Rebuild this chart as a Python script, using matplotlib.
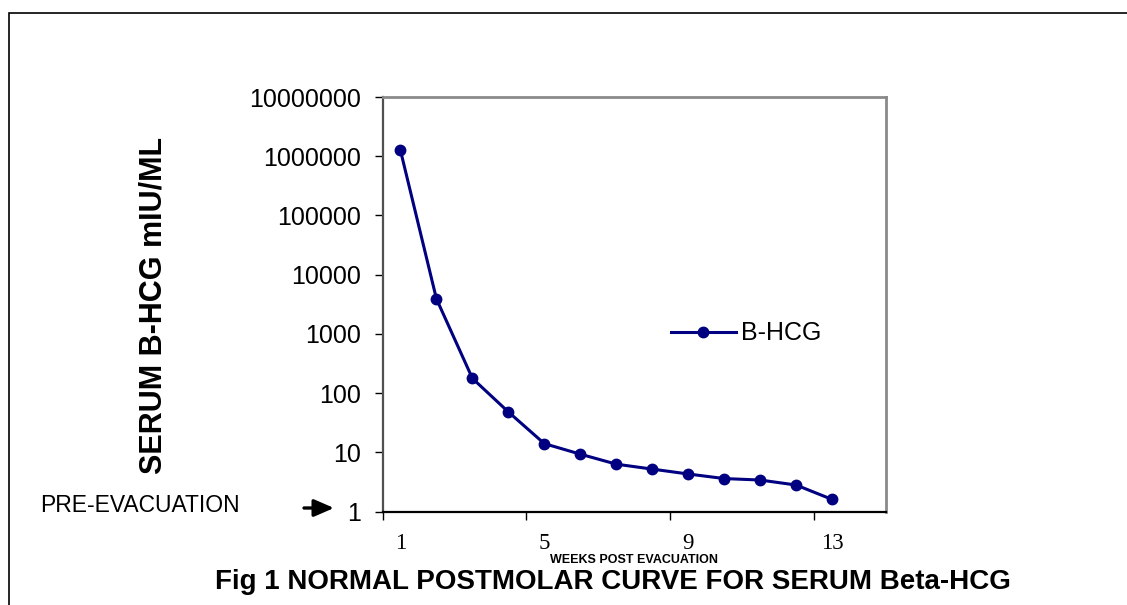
"""
Normal postmolar curve for serum beta-HCG (log scale)
"""
import matplotlib
matplotlib.use("Agg")
import matplotlib.pyplot as plt
from matplotlib.patches import Rectangle
from matplotlib.ticker import FixedLocator, NullLocator, FixedFormatter, NullFormatter

# data
weeks = [1, 2, 3, 4, 5, 6, 7, 8, 9, 10, 11, 12, 13]
bhcg = [1250000, 3900, 177, 48, 14, 9.3, 6.3, 5.2, 4.3, 3.6, 3.4, 2.8, 1.6]
week_labels = ["1", "5", "9", "13"]
week_label_pos = [1, 5, 9, 13]
y_ticks = [1, 10, 100, 1000, 10000, 100000, 1000000, 10000000]

W, H = 1127, 605
fig = plt.figure(figsize=(W / 100, H / 100), dpi=100)
fig.patch.set_facecolor("white")

# axes box in pixels: left 382.5, right 886, top 97, bottom 511.5
ax = fig.add_axes([382.5 / W, (H - 511.5) / H, (886 - 382.5) / W, (511.5 - 97) / H])

navy = "#000080"
ax.plot(weeks, bhcg, color=navy, lw=2.2, marker="o", ms=7.5,
        markerfacecolor=navy, markeredgecolor=navy, label="B-HCG")

ax.set_yscale("log")
ax.set_ylim(1, 10000000)
ax.set_xlim(0.5, 14.5)

ax.yaxis.set_major_locator(FixedLocator(y_ticks))
ax.yaxis.set_major_formatter(FixedFormatter([str(v) for v in y_ticks]))
ax.yaxis.set_minor_locator(NullLocator())
ax.tick_params(axis="y", which="major", direction="out", length=5.5, width=1,
               pad=10, labelsize=18, colors="black")
for lab in ax.get_yticklabels():
    lab.set_family("Liberation Sans")

# tick marks between categories, labels on the categories
ax.xaxis.set_major_locator(FixedLocator([0.5, 4.5, 8.5, 12.5]))
ax.xaxis.set_major_formatter(NullFormatter())
ax.xaxis.set_minor_locator(FixedLocator(week_label_pos))
ax.xaxis.set_minor_formatter(FixedFormatter(week_labels))
ax.tick_params(axis="x", which="major", direction="out", length=5.5, width=1)
ax.tick_params(axis="x", which="minor", length=0, pad=15.5, labelsize=16.5)
for lab in ax.get_xticklabels(minor=True):
    lab.set_family("Liberation Serif")

ax.spines["bottom"].set_color("black")
ax.spines["bottom"].set_linewidth(1.6)
ax.spines["left"].set_color("#505050")
ax.spines["left"].set_linewidth(1.6)
for s in ["top", "right"]:
    ax.spines[s].set_color("#8a8a8a")
    ax.spines[s].set_linewidth(2)

leg = ax.legend(loc="center left", bbox_to_anchor=(0.548, 0.43), frameon=False,
                borderpad=0, handlelength=2.6, handletextpad=0.2,
                prop={"family": "Liberation Sans", "size": 18})

ax.text(0.5, -0.117, "WEEKS POST EVACUATION", transform=ax.transAxes,
        ha="center", va="center", fontsize=9, fontweight="bold",
        family="Liberation Sans")

fig.text(154 / W, (H - 305) / H, "SERUM B-HCG mIU/ML", rotation=90,
         ha="center", va="center", fontsize=22, fontweight="bold",
         family="Liberation Sans")

fig.text(40 / W, (H - 505) / H, "PRE-EVACUATION", ha="left", va="center",
         fontsize=16.5, family="Liberation Sans")

ax.annotate("", xy=(334, H - 508), xycoords="figure pixels",
            xytext=(304, H - 508), textcoords="figure pixels",
            arrowprops=dict(arrowstyle="-|>,head_length=0.6,head_width=0.26",
                            mutation_scale=20, color="black", lw=2.4,
                            shrinkA=0, shrinkB=0))

fig.text(613 / W, (H - 582) / H, "Fig 1 NORMAL POSTMOLAR CURVE FOR SERUM Beta-HCG",
         ha="center", va="center", fontsize=20, fontweight="bold",
         family="Liberation Sans")

# outer frame, only left and top edges fall inside the picture
frame = Rectangle((8.5 / W, -0.1), 1.2, (H - 12.5) / H + 0.1, transform=fig.transFigure,
                  fill=False, edgecolor="black", lw=1.2, clip_on=False)
fig.patches.append(frame)

fig.savefig("out.png", dpi=100, facecolor="white")
